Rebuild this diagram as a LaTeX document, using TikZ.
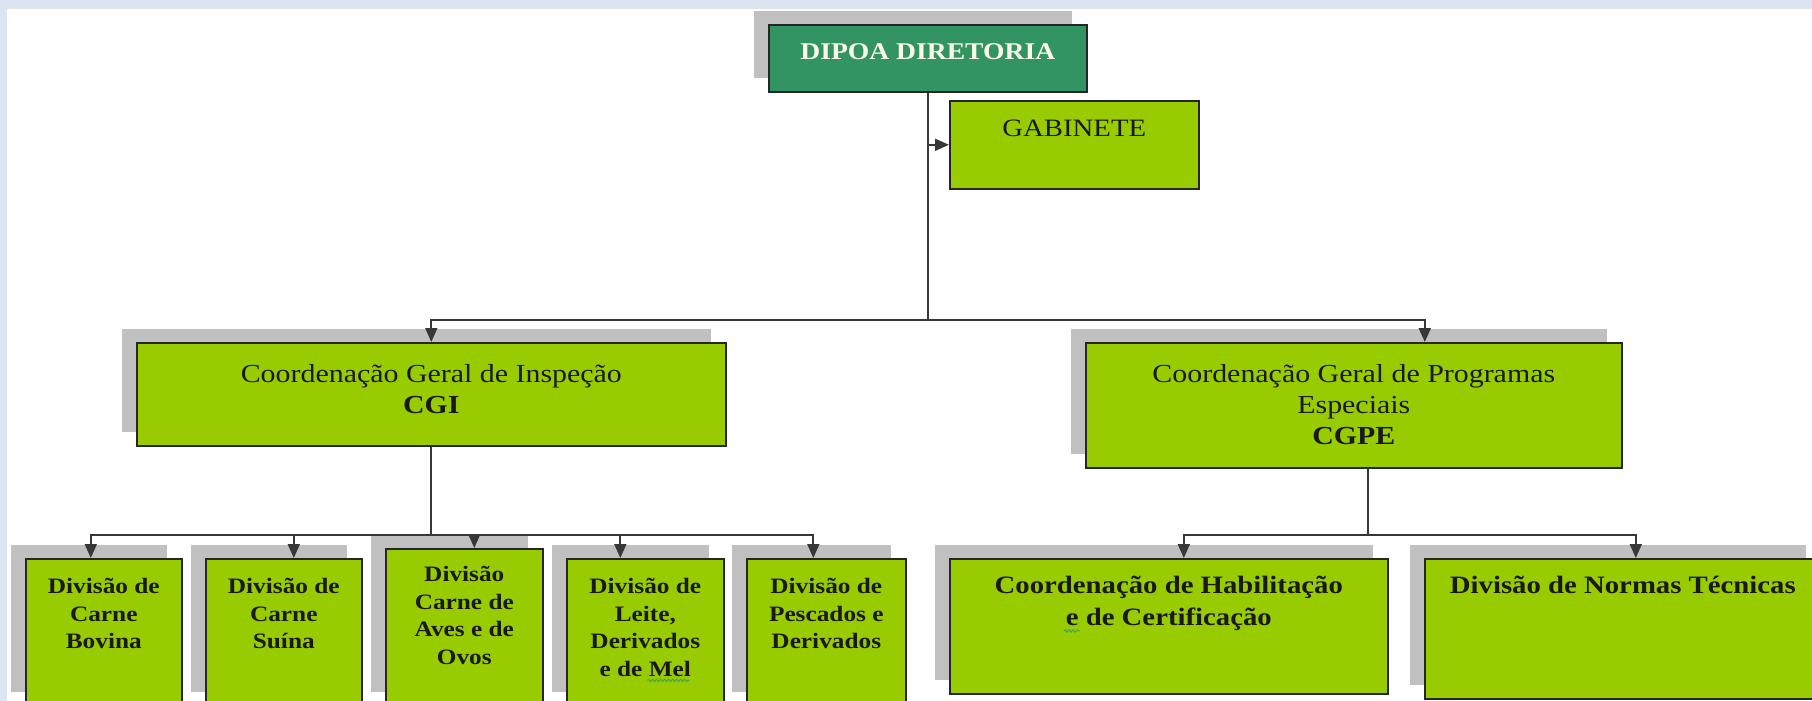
\documentclass[tikz,border=0pt]{standalone}
\usepackage{fontspec}
\newfontfamily\orgfont[FakeStretch=1.15]{Liberation Serif}
\usetikzlibrary{positioning,arrows.meta,shadows,decorations.pathmorphing}

\definecolor{framebg}{RGB}{220,228,242}
\definecolor{leafgreen}{RGB}{153,204,0}
\definecolor{dipoagreen}{RGB}{50,148,98}
\definecolor{shadowgray}{RGB}{192,192,192}
\definecolor{linegray}{RGB}{55,55,55}
\definecolor{creamtext}{RGB}{250,250,228}
\definecolor{spellgreen}{RGB}{60,165,90}

\tikzset{
  unit/.style={draw=black!85, line width=1.6pt, fill=leafgreen, inner sep=0pt, anchor=north west},
  shaded/.style={drop shadow={shadow xshift=-15pt, shadow yshift=14pt, fill=shadowgray, opacity=1}},
  headtext/.style={font=\orgfont\fontsize{26}{31}\selectfont, align=center, inner sep=0pt, text=black!90},
  divtext/.style={font=\orgfont\bfseries\fontsize{22}{27.5}\selectfont, align=center, inner sep=0pt, text=black!90},
  line/.style={draw=linegray, line width=1.8pt},
  conn/.style={line, -{Triangle[length=14pt,width=12pt]}},
  squiggle/.style={draw=spellgreen, line width=1pt, decorate, decoration={snake, segment length=4pt, amplitude=1.2pt}}
}

\begin{document}
\begin{tikzpicture}[x=1pt, y=-1pt]
	\useasboundingbox (0,0) rectangle (1812,701);
	\clip (0,0) rectangle (1812,701);
	\fill[framebg] (0,0) rectangle (1812,701);
	\fill[white] (7,9) rectangle (1812,701);

	% direction
	\node[unit, shaded, fill=dipoagreen, minimum width=318pt, minimum height=67pt] (dipoa) at (768,24) {};
	\node[headtext, font=\orgfont\bfseries\fontsize{24}{28}\selectfont, text=creamtext, below=19pt of dipoa.north] (dipoaT) {DIPOA DIRETORIA};
	\node[unit, minimum width=249pt, minimum height=88pt] (gab) at (949,100) {};
	\node[headtext, font=\orgfont\fontsize{25}{30}\selectfont, below=20pt of gab.north] (gabT) {GABINETE};

	% general coordinations
	\node[unit, shaded, minimum width=589pt, minimum height=103pt] (cgi) at (136,342) {};
	\node[headtext, below=22pt of cgi.north] (cgiT) {Coordenação Geral de Inspeção\\\textbf{CGI}};
	\node[unit, shaded, minimum width=536pt, minimum height=125pt] (cgpe) at (1085,342) {};
	\node[headtext, below=22pt of cgpe.north] (cgpeT) {Coordenação Geral de Programas\\Especiais\\\textbf{CGPE}};

	% divisions of CGI
	\node[unit, shaded, minimum width=156pt, minimum height=147pt] (bovina) at (25,558) {};
	\node[divtext, below=20pt of bovina.north] (bovinaT) {Divisão de\\Carne\\Bovina};
	\node[unit, shaded, minimum width=156pt, minimum height=147pt] (suina) at (205,558) {};
	\node[divtext, below=20pt of suina.north] (suinaT) {Divisão de\\Carne\\Suína};
	\node[unit, shaded, minimum width=157pt, minimum height=157pt] (aves) at (385,548) {};
	\node[divtext, below=18pt of aves.north] (avesT) {Divisão\\Carne de\\Aves e de\\Ovos};
	\node[unit, shaded, minimum width=157pt, minimum height=147pt] (leite) at (566,558) {};
	\node[divtext, below=20pt of leite.north] (leiteT) {Divisão de\\Leite,\\Derivados\\e de Mel};
	\node[unit, shaded, minimum width=159pt, minimum height=147pt] (pescados) at (746,558) {};
	\node[divtext, below=20pt of pescados.north] (pescadosT) {Divisão de\\Pescados e\\Derivados};

	% units of CGPE
	\node[unit, shaded, minimum width=438pt, minimum height=135pt] (habil) at (949,558) {};
	\node[divtext, font=\orgfont\bfseries\fontsize{25}{32}\selectfont, below=18pt of habil.north] (habilT) {Coordenação de Habilitação\\e de Certificação};
	\node[unit, shaded, minimum width=396pt, minimum height=140pt] (normas) at (1424,558) {};
	\node[divtext, font=\orgfont\bfseries\fontsize{25}{32}\selectfont, below=18pt of normas.north] (normasT) {Divisão de Normas Técnicas};

	% spell check marks
	\draw[squiggle] ([xshift=2pt,yshift=-4pt]leiteT.south) -- ([xshift=44pt,yshift=-4pt]leiteT.south);
	\draw[squiggle] ([xshift=-105pt,yshift=0pt]habilT.south) -- ([xshift=-89pt,yshift=0pt]habilT.south);

	% connectors
	\coordinate (busA) at ([yshift=-227pt]dipoa.south);
	\coordinate (busB) at ([yshift=-88pt]cgi.south);
	\coordinate (busC) at ([xshift=14pt,yshift=-66pt]cgpe.south);
	\draw[line] (dipoa.south) -- (busA);
	\draw[conn] (dipoa.south |- gab.west) -- (gab.west);
	\draw[conn] (busA) -| (cgi);
	\draw[conn] (busA) -| ([xshift=71pt]cgpe.north);

	\draw[line] (cgi.south) -- (busB);
	\draw[conn] (busB) -| ([xshift=-13pt]bovina.north);
	\draw[conn] (busB) -| ([xshift=10pt]suina.north);
	\draw[conn] (busB) -| ([xshift=10pt]aves.north);
	\draw[conn] (busB) -| ([xshift=-25pt]leite.north);
	\draw[conn] (busB) -| ([xshift=-13pt]pescados.north);

	\draw[line] ([xshift=14pt]cgpe.south) -- (busC);
	\draw[conn] (busC) -| ([xshift=15pt]habil.north);
	\draw[conn] (busC) -| ([xshift=13pt]normas.north);
\end{tikzpicture}
\end{document}
